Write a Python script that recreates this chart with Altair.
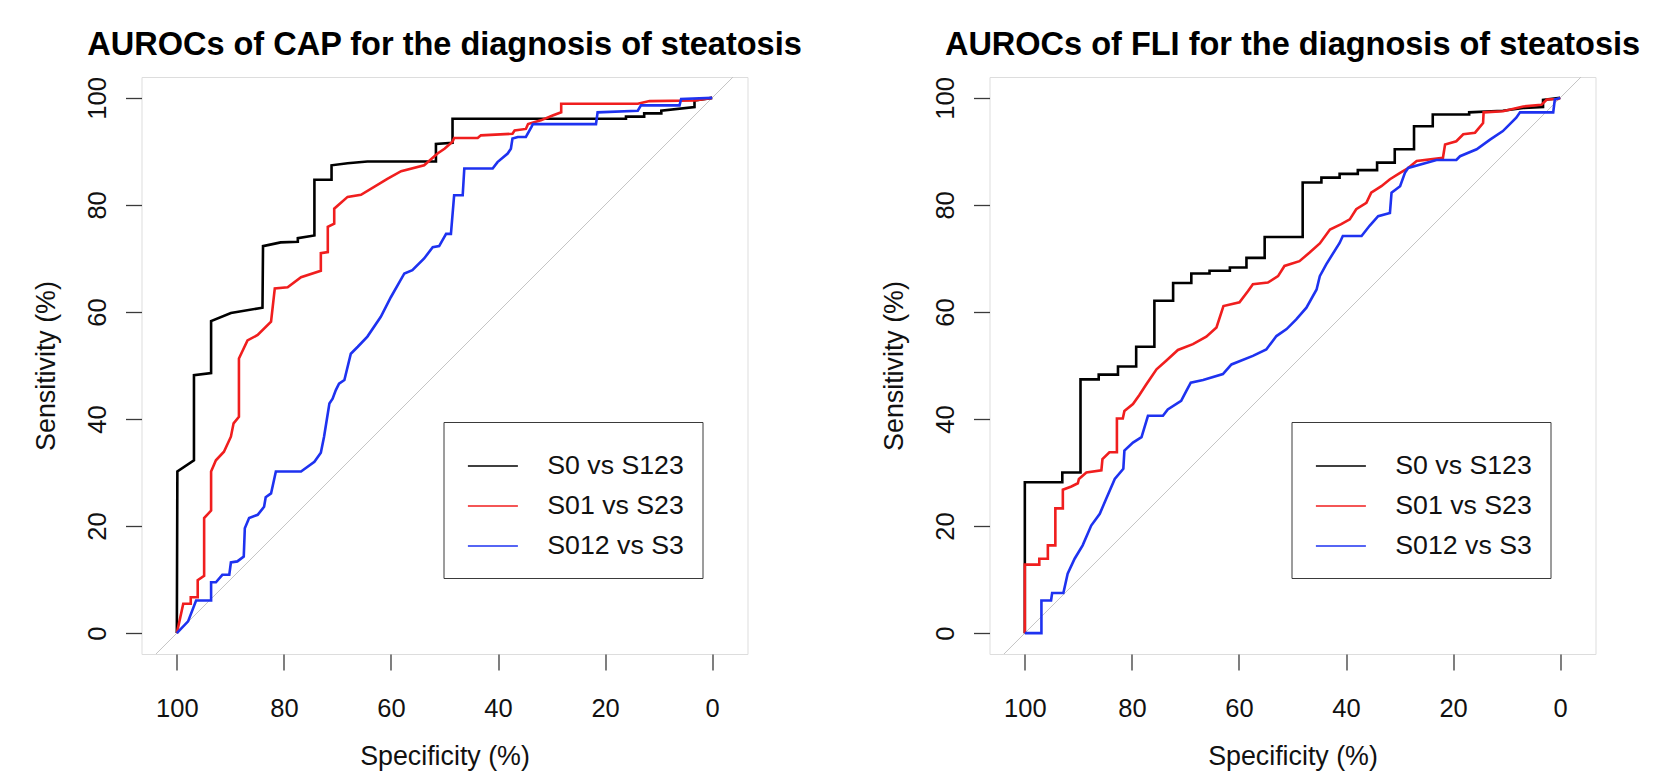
import altair as alt
import pandas as pd

SERIES = ["S0 vs S123", "S01 vs S23", "S012 vs S3"]
COLORS = ["#000000", "#f01e1e", "#1e32f0"]
TICKS = [0, 20, 40, 60, 80, 100]

# ---- CAP panel ----
cap_s0_spec = [100, 99.9, 96.8, 96.8, 93.6, 93.6, 89.9, 84.0, 83.9, 80.6, 77.4, 77.4, 74.3, 74.3, 71.1, 71.1,
               68.1, 64.4, 51.6, 51.6, 48.5, 48.5, 16.1, 16.1, 12.7, 12.7, 9.5, 9.5, 3.3, 3.3, 0]
cap_s0_sens = [0, 30.2, 32.3, 48.2, 48.6, 58.3, 59.8, 60.8, 72.3, 73.0, 73.1, 73.8, 74.3, 84.7, 84.7, 87.4,
               87.8, 88.1, 88.1, 91.4, 91.6, 96.1, 96.1, 96.5, 96.5, 97.1, 97.1, 97.6, 98.3, 99.5, 100]

cap_s01_spec = [100, 98.8, 97.4, 97.4, 96.1, 96.1, 94.9, 94.9, 93.6, 93.6, 92.7, 91.2, 89.9, 89.4, 88.4, 88.4,
                86.8, 84.9, 82.4, 81.7, 79.3, 76.8, 73.1, 73.1, 71.8, 71.8, 70.6, 70.6, 68.1, 65.6, 60.6,
                58.1, 53.8, 51.3, 50.0, 48.5, 48.2, 43.8, 43.2, 37.3, 36.9, 34.8, 34.4, 32.0, 29.8, 28.2,
                28.2, 13.9, 11.7, 3.3, 0]
cap_s01_sens = [0, 5.5, 5.5, 6.7, 6.7, 9.9, 10.7, 21.5, 22.9, 30.2, 32.3, 33.9, 36.7, 39.2, 40.4, 51.3,
                54.7, 55.7, 58.2, 64.4, 64.6, 66.5, 67.7, 71.0, 71.2, 75.9, 76.5, 79.3, 81.5, 81.9, 84.9,
                86.3, 87.4, 89.6, 90.5, 91.8, 92.5, 92.5, 93.0, 93.3, 93.9, 94.2, 95.1, 95.8, 96.7, 97.3,
                98.9, 98.9, 99.4, 99.5, 100]

cap_s012_spec = [100, 97.9, 96.4, 93.6, 93.6, 92.7, 91.5, 90.2, 89.9, 88.7, 87.5, 87.3, 86.5, 84.9, 83.7,
                 83.4, 82.4, 81.5, 76.8, 74.3, 73.1, 72.5, 71.5, 70.9, 70.3, 69.7, 68.7, 67.5, 66.2, 64.4,
                 61.9, 60.0, 57.5, 56.0, 53.8, 52.2, 51.0, 49.7, 48.8, 48.2, 46.6, 46.3, 41.0, 40.1, 38.2,
                 37.6, 37.3, 36.3, 34.8, 33.8, 33.5, 21.7, 21.4, 13.9, 13.3, 6.1, 5.8, 0]
cap_s012_sens = [0, 2.2, 6.1, 6.1, 9.5, 9.5, 10.9, 10.9, 13.2, 13.4, 14.3, 19.6, 21.5, 22.1, 23.6,
                 25.4, 26.1, 30.2, 30.2, 32.0, 33.7, 36.7, 42.9, 43.8, 45.4, 46.6, 47.3, 52.2, 53.5, 55.4,
                 59.1, 62.8, 67.2, 67.8, 70.0, 72.1, 72.3, 74.6, 74.6, 81.8, 81.8, 86.8, 86.8, 88.0, 89.6,
                 90.5, 92.4, 92.7, 92.7, 94.5, 95.1, 95.1, 97.3, 97.6, 98.6, 98.6, 99.8, 100]

# ---- FLI panel ----
fli_s0_spec = [100, 100, 93.0, 93.0, 89.6, 89.6, 86.2, 86.2, 82.6, 82.6, 79.2, 79.2, 75.8, 75.8, 72.3, 72.3,
               68.9, 68.9, 65.5, 65.5, 61.7, 61.7, 58.6, 58.6, 55.2, 55.2, 48.1, 48.1, 44.6, 44.6, 41.2,
               41.2, 37.8, 37.8, 34.2, 34.2, 30.9, 30.9, 27.3, 27.3, 23.8, 23.8, 17.0, 17.0, 10.7, 6.9,
               3.2, 3.2, 0]
fli_s0_sens = [0, 28.2, 28.2, 30.0, 30.0, 47.4, 47.4, 48.3, 48.3, 49.8, 49.8, 53.5, 53.5, 62.1, 62.1, 65.4,
               65.4, 67.2, 67.2, 67.7, 67.7, 68.3, 68.3, 70.1, 70.1, 74.0, 74.0, 84.2, 84.2, 85.1, 85.1,
               85.8, 85.8, 86.5, 86.5, 87.9, 87.9, 90.4, 90.4, 94.7, 94.7, 96.9, 96.9, 97.3, 97.6, 98.1,
               98.3, 99.6, 100]

fli_s01_spec = [100, 100, 97.3, 97.3, 95.7, 95.7, 94.3, 94.3, 92.9, 92.9, 91.3, 90.1, 89.9, 88.5, 85.7, 85.5,
                84.2, 82.8, 82.8, 81.7, 81.4, 79.8, 78.6, 77.3, 75.4, 73.6, 71.4, 68.6, 66.1, 64.2, 62.9,
                59.9, 58.3, 57.4, 54.6, 52.7, 51.5, 48.7, 46.8, 44.9, 43.0, 40.9, 39.3, 38.1, 36.2, 35.3,
                33.4, 31.8, 29.9, 28.4, 26.8, 21.9, 21.5, 19.4, 18.1, 15.9, 14.4, 14.3, 10.7, 6.9, 3.5,
                2.5, 0.4, 0]
fli_s01_sens = [0, 12.8, 12.8, 13.9, 13.9, 16.4, 16.4, 23.3, 23.3, 26.8, 27.4, 28.0, 28.8, 30.0, 30.4, 32.5,
                33.8, 33.8, 40.1, 40.1, 41.5, 42.8, 44.5, 46.5, 49.3, 50.9, 52.9, 54.0, 55.4, 57.1, 61.1,
                61.8, 63.9, 65.2, 65.5, 66.7, 68.6, 69.5, 71.1, 72.8, 75.4, 76.4, 77.3, 79.2, 80.4, 82.3,
                83.5, 84.8, 86.0, 86.9, 88.2, 88.8, 91.3, 91.9, 93.2, 93.5, 95.3, 97.3, 97.5, 98.4, 98.7,
                99.7, 99.8, 100]

fli_s012_spec = [100, 96.9, 96.9, 95.1, 94.9, 92.8, 92.0, 90.7, 89.2, 87.6, 86.0, 84.8, 83.2, 81.6, 81.4,
                 79.8, 78.2, 77.0, 74.2, 73.3, 70.8, 69.8, 69.0, 66.7, 63.0, 61.4, 57.4, 54.9, 53.0, 51.1,
                 49.3, 47.4, 45.5, 44.9, 43.7, 41.2, 40.6, 37.1, 35.6, 34.0, 31.8, 31.5, 29.9, 29.0, 28.4,
                 23.1, 19.4, 18.7, 15.6, 13.1, 10.7, 8.2, 7.5, 1.3, 1.0, 0]
fli_s012_sens = [0, 0, 6.1, 6.1, 7.5, 7.5, 11.1, 13.9, 16.4, 20.1, 22.3, 25.1, 28.8, 30.7, 34.1,
                 35.6, 36.6, 40.6, 40.6, 41.8, 43.4, 45.3, 46.8, 47.3, 48.4, 50.2, 51.8, 53.0, 55.5, 56.8,
                 58.6, 60.8, 64.2, 66.7, 68.9, 72.9, 74.2, 74.2, 76.1, 77.9, 78.5, 82.3, 83.5, 86.0, 86.9,
                 88.4, 88.4, 89.1, 90.4, 92.2, 93.8, 96.3, 97.3, 97.3, 99.7, 100]

# chance line (sensitivity = 100 - specificity), spanning the frame
diag_spec = [103.9, -3.9]
diag_sens = [-3.9, 103.9]

W, H = 606, 577
XDOM = [-6.6, 106.6]
YDOM = [-3.9, 103.9]
FONT = "Liberation Sans"
TXT = "#111111"


def curves(items):
    rows = []
    for name, xs, ys in items:
        for i, (x, y) in enumerate(zip(xs, ys)):
            rows.append({"series": name, "spec": x, "sens": y, "i": i})
    return pd.DataFrame(rows)


def panel(title, df):
    x_enc = alt.X("spec:Q",
                  scale=alt.Scale(domain=XDOM, reverse=True, nice=False, zero=False),
                  axis=alt.Axis(values=TICKS, title="Specificity (%)", grid=False, domain=False,
                                tickSize=16, tickColor="#3a3a3a", tickWidth=1.3,
                                labelFont=FONT, labelFontSize=25.5, labelColor=TXT,
                                labelPadding=46, labelBaseline="alphabetic", labelFlush=False,
                                labelOverlap=False,
                                titleFont=FONT, titleFontSize=26.8, titleFontWeight="normal",
                                titleColor=TXT, titleBaseline="alphabetic", titleAlign="center",
                                titleX=W / 2, titleY=110))
    y_enc = alt.Y("sens:Q",
                  scale=alt.Scale(domain=YDOM, nice=False, zero=False),
                  axis=alt.Axis(values=TICKS, title="Sensitivity (%)", grid=False, domain=False,
                                tickSize=16, tickColor="#3a3a3a", tickWidth=1.3,
                                labelFont=FONT, labelFontSize=25.5, labelColor=TXT,
                                labelAngle=270, labelAlign="center", labelBaseline="alphabetic",
                                labelPadding=20, labelFlush=False, labelOverlap=False,
                                titleFont=FONT, titleFontSize=26.8, titleFontWeight="normal",
                                titleColor=TXT, titleAngle=270, titleBaseline="alphabetic",
                                titleAlign="center", titleX=-87.5, titleY=H / 2))
    diag = alt.Chart(pd.DataFrame({"spec": diag_spec, "sens": diag_sens, "i": [0, 1]})).mark_line(
        color="#c4c4c4", strokeWidth=1, clip=True).encode(x=x_enc, y=y_enc, order="i:Q")
    lines = alt.Chart(df).mark_line(strokeWidth=2.6, clip=True).encode(
        x=x_enc, y=y_enc, order="i:Q",
        color=alt.Color("series:N", scale=alt.Scale(domain=SERIES, range=COLORS),
                        legend=alt.Legend(title=None, orient="none", legendX=302, legendY=345,
                                          direction="vertical", symbolType="stroke",
                                          symbolSize=2500, symbolStrokeWidth=1.5,
                                          symbolOffset=5.4, labelOffset=28.4, padding=18,
                                          rowPadding=-12.5, labelFont=FONT, labelFontSize=26.7,
                                          labelColor=TXT, labelLimit=0,
                                          strokeColor="#3a3a3a", fillColor="white")))
    return alt.layer(diag, lines).properties(
        width=W, height=H,
        title=alt.TitleParams(title, font=FONT, fontSize=32.5, fontWeight="bold", color="black",
                              anchor="middle", frame="group", baseline="alphabetic", offset=-11))


cap_df = curves([(SERIES[0], cap_s0_spec, cap_s0_sens),
                 (SERIES[1], cap_s01_spec, cap_s01_sens),
                 (SERIES[2], cap_s012_spec, cap_s012_sens)])
fli_df = curves([(SERIES[0], fli_s0_spec, fli_s0_sens),
                 (SERIES[1], fli_s01_spec, fli_s01_sens),
                 (SERIES[2], fli_s012_spec, fli_s012_sens)])

chart = alt.hconcat(
    panel("AUROCs of CAP for the diagnosis of steatosis", cap_df),
    panel("AUROCs of FLI for the diagnosis of steatosis", fli_df),
    spacing=77,
).resolve_scale(color="independent").resolve_legend(color="independent").properties(
    padding={"left": 24.5, "top": 20, "right": 5, "bottom": 5}
).configure_view(stroke="#3a3a3a", strokeWidth=1.4).configure(background="white")

chart.save("out.html", embed_options={"renderer": "svg", "actions": False})
